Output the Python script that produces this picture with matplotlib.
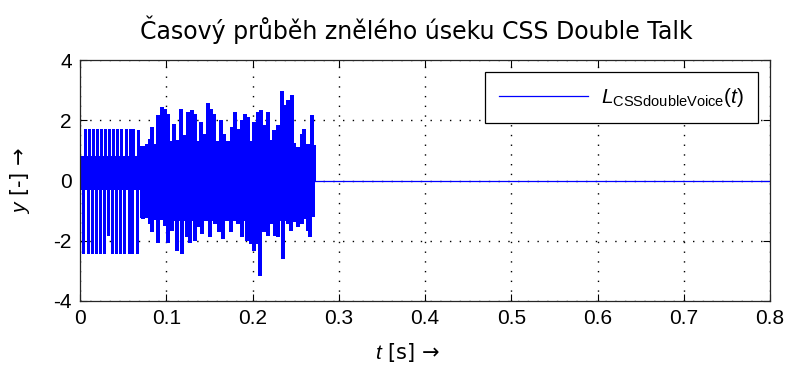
import matplotlib
matplotlib.use("Agg")
import matplotlib.pyplot as plt
import numpy as np

# ---------------- data ----------------
# dense core band of the voiced segment: (start time, upper, lower)
core_t  = [0.0,  0.0695, 0.080, 0.100, 0.150, 0.200, 0.250, 0.2725]
core_hi = [0.80, 1.15,   1.20,  1.30,  1.30,  1.25,  1.10,  1.10]
core_lo = [-0.33, -1.25, -1.30, -1.35, -1.35, -1.35, -1.20, -1.20]

# positive peaks (time [s], value)
up_t = [0.0058, 0.0104, 0.0151, 0.0194, 0.0243, 0.0290, 0.0336, 0.0383,
        0.0425, 0.0475, 0.0530, 0.0576, 0.0618, 0.0669,
        0.0734, 0.0773, 0.0812, 0.0839, 0.0908, 0.0955, 0.0986, 0.1016,
        0.1094, 0.1132, 0.1171, 0.1210, 0.1256, 0.1295, 0.1333, 0.1364,
        0.1403, 0.1442, 0.1488, 0.1519, 0.1558, 0.1596, 0.1635, 0.1674,
        0.1720, 0.1758, 0.1797, 0.1836, 0.1874, 0.1913, 0.1952, 0.2021,
        0.2060, 0.2099, 0.2137, 0.2176, 0.2222, 0.2253, 0.2292, 0.2346,
        0.2384, 0.2415, 0.2454, 0.2531, 0.2570, 0.2601, 0.2640, 0.2686,
        0.2717]
up_v = [1.70, 1.70, 1.70, 1.70, 1.70, 1.70, 1.70, 1.70,
        1.70, 1.70, 1.70, 1.70, 1.70, 1.68,
        1.11, 1.22, 1.39, 1.78, 2.17, 2.44, 2.39, 2.22,
        1.89, 1.33, 2.39, 1.50, 2.28, 2.33, 2.22, 1.22,
        1.94, 1.56, 2.56, 2.39, 2.22, 1.11, 2.00, 1.56,
        1.11, 1.78, 2.28, 1.72, 2.00, 2.22, 2.11, 1.94,
        2.28, 2.33, 1.83, 2.28, 1.33, 1.67, 1.83, 2.97,
        2.50, 2.67, 2.83, 1.11, 1.56, 1.72, 1.22, 2.17,
        1.17]

# negative peaks (time [s], value)
dn_t = [0.0040, 0.0090, 0.0140, 0.0185, 0.0230, 0.0278, 0.0325, 0.0370,
        0.0415, 0.0462, 0.0510, 0.0565, 0.0608, 0.0660,
        0.0734, 0.0773, 0.0812, 0.0839, 0.0908, 0.0955, 0.0986, 0.1024,
        0.1071, 0.1121, 0.1187, 0.1237, 0.1275, 0.1333, 0.1380, 0.1411,
        0.1507, 0.1565, 0.1612, 0.1662, 0.1712, 0.1751, 0.1797, 0.1836,
        0.1874, 0.1932, 0.1983, 0.2021, 0.2068, 0.2091, 0.2137, 0.2176,
        0.2222, 0.2261, 0.2299, 0.2357, 0.2415, 0.2446, 0.2485, 0.2524,
        0.2570, 0.2601, 0.2640, 0.2670, 0.2694]
dn_v = [-2.42, -2.42, -2.42, -2.42, -2.42, -2.42, -1.80, -2.42,
        -2.42, -2.42, -2.42, -2.42, -2.42, -2.42,
        -1.28, -1.17, -1.44, -1.72, -2.06, -1.11, -1.50, -2.06,
        -1.67, -2.33, -2.44, -1.89, -2.06, -2.00, -1.56, -1.78,
        -1.89, -1.44, -1.72, -1.94, -1.33, -1.72, -1.17, -1.44,
        -1.89, -2.00, -2.11, -2.33, -2.11, -3.17, -1.72, -1.83,
        -1.44, -1.83, -1.89, -2.61, -1.44, -1.67, -1.39, -1.56,
        -1.44, -1.28, -1.67, -1.89, -1.17]

# silent remainder of the recording
silence_t = [0.2725, 0.8]
silence_v = [0.0, 0.0]

x_ticks = [0, 0.1, 0.2, 0.3, 0.4, 0.5, 0.6, 0.7, 0.8]
x_ticklabels = ["0", "0.1", "0.2", "0.3", "0.4", "0.5", "0.6", "0.7", "0.8"]
y_ticks = [-4, -2, 0, 2, 4]
y_ticklabels = ["-4", "-2", "0", "2", "4"]

title = "Časový průběh znělého úseku CSS Double Talk"
legend_label = r"$L_{\mathregular{CSSdoubleVoice}}(t)$"

# ---------------- style ----------------
plt.rcParams['font.family'] = ['Liberation Sans', 'DejaVu Sans']
plt.rcParams['mathtext.fontset'] = 'custom'
plt.rcParams['mathtext.rm'] = 'Liberation Sans'
plt.rcParams['mathtext.it'] = 'Liberation Sans:italic'
plt.rcParams['mathtext.sf'] = 'Liberation Sans'
plt.rcParams['axes.unicode_minus'] = False

BLUE = (0, 0, 1)

fig = plt.figure(figsize=(7.90, 3.71), dpi=100)
ax = fig.add_axes([80/790, 1 - 301/371, 690/790, 241/371])

ax.fill_between(core_t, core_lo, core_hi, step='post', color=BLUE,
                linewidth=0, antialiased=False, zorder=3)
n1 = 14  # first part (regular pulses)
ax.vlines(up_t[:n1], 0, up_v[:n1], color=BLUE, linewidth=1.0, antialiased=False, zorder=3)
ax.vlines(dn_t[:n1], dn_v[:n1], 0, color=BLUE, linewidth=1.0, antialiased=False, zorder=3)
ax.vlines(up_t[n1:], 0, up_v[n1:], color=BLUE, linewidth=1.6, antialiased=False, zorder=3)
ax.vlines(dn_t[n1:], dn_v[n1:], 0, color=BLUE, linewidth=1.6, antialiased=False, zorder=3)
ax.plot(silence_t, silence_v, color=BLUE, linewidth=0.9, label=legend_label, zorder=3)

ax.set_xlim(0, 0.8)
ax.set_ylim(-4, 4)
ax.set_xticks(x_ticks)
ax.set_xticklabels(x_ticklabels)
ax.set_yticks(y_ticks)
ax.set_yticklabels(y_ticklabels)
ax.tick_params(direction='in', top=True, right=True, length=5, width=0.8,
               labelsize=15, pad=6, colors='black')
for s in ax.spines.values():
    s.set_linewidth(0.9)
    s.set_color('#262626')
    s.set_zorder(5)

ax.set_axisbelow(True)
ax.grid(True, color='black', linestyle=(0, (1, 6)), linewidth=1.0)

ax.set_title(title, fontsize=17, pad=15, family=['DejaVu Sans'], x=0.488)
ax.set_xlabel("$t$ [s] →", fontsize=15, family=['DejaVu Sans'])
ax.xaxis.set_label_coords(0.475, -0.165)
ax.set_ylabel("$y$ [-] →", fontsize=15, family=['DejaVu Sans'])
ax.yaxis.set_label_coords(-0.07, 0.5)

leg = ax.legend(loc='upper right', fontsize=15, handlelength=4.3,
                fancybox=False, edgecolor='black', framealpha=1,
                borderaxespad=0.6, borderpad=0.65, handletextpad=0.6)
leg.get_frame().set_linewidth(0.9)
leg.set_zorder(6)

fig.savefig("out.png", dpi=100)
